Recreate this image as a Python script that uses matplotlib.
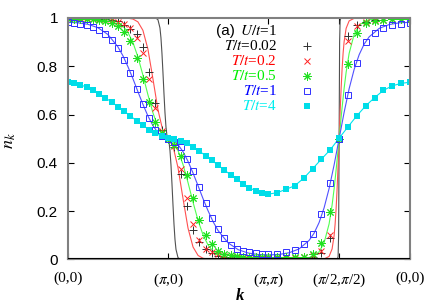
import numpy as np
import matplotlib.pyplot as plt

plt.rcParams['mathtext.fontset'] = 'stix'

# k path (0,0)->(pi,0)->(pi,pi)->(pi/2,pi/2)->(0,0), path length in units of pi
d = np.sqrt(2) / 2
s_ticks = [0, 1, 2, 2 + d, 2 + 2 * d]
tick_labels = ['(0,0)', r'($\pi$,0)', r'($\pi$,$\pi$)', r'($\pi$/2,$\pi$/2)', '(0,0)']

# lattice points (L=32) along the path
sA = np.arange(17) / 16
sB = 1 + np.arange(1, 17) / 16
sC = 2 + np.arange(1, 9) * np.sqrt(2) / 16
sD = 2 + d + np.arange(1, 9) * np.sqrt(2) / 16
s_pts = np.concatenate([sA, sB, sC, sD])

# markers (U/t=1)
n_002 = [0.998, 0.998, 0.998, 0.998, 0.998, 0.997, 0.996, 0.993, 0.988, 0.972, 0.955, 0.934, 0.88, 0.778, 0.647, 0.536, 0.5,
         0.464, 0.353, 0.222, 0.122, 0.07, 0.042, 0.025, 0.015, 0.01, 0.008, 0.006, 0.005, 0.004, 0.004, 0.004, 0.004,
         0.004, 0.004, 0.005, 0.006, 0.01, 0.025, 0.087, 0.5,
         0.924, 0.972, 0.985, 0.99, 0.993, 0.995, 0.996, 0.996]
n_02 = [0.998, 0.998, 0.998, 0.998, 0.997, 0.996, 0.994, 0.99, 0.985, 0.976, 0.96, 0.918, 0.855, 0.746, 0.627, 0.532, 0.5,
        0.468, 0.375, 0.256, 0.148, 0.082, 0.043, 0.03, 0.02, 0.014, 0.01, 0.008, 0.007, 0.006, 0.006, 0.006, 0.006,
        0.006, 0.006, 0.007, 0.01, 0.016, 0.034, 0.1, 0.5,
        0.905, 0.968, 0.985, 0.99, 0.993, 0.995, 0.996, 0.997]
n_05 = [0.997, 0.997, 0.996, 0.996, 0.995, 0.993, 0.988, 0.979, 0.965, 0.944, 0.903, 0.834, 0.746, 0.652, 0.571, 0.525, 0.5,
        0.472, 0.43, 0.35, 0.255, 0.164, 0.099, 0.062, 0.034, 0.022, 0.016, 0.012, 0.01, 0.009, 0.008, 0.008, 0.008,
        0.008, 0.008, 0.009, 0.011, 0.022, 0.069, 0.198, 0.5,
        0.81, 0.938, 0.978, 0.988, 0.992, 0.994, 0.995, 0.996]
n_1 = [0.982, 0.979, 0.976, 0.972, 0.963, 0.949, 0.932, 0.907, 0.874, 0.827, 0.774, 0.705, 0.644, 0.585, 0.536, 0.513, 0.5,
       0.486, 0.464, 0.415, 0.364, 0.299, 0.232, 0.173, 0.124, 0.087, 0.06, 0.043, 0.035, 0.03, 0.026, 0.023, 0.022,
       0.023, 0.03, 0.039, 0.063, 0.105, 0.187, 0.318, 0.5,
       0.682, 0.813, 0.899, 0.938, 0.958, 0.972, 0.976, 0.979]
n_4 = [0.734, 0.729, 0.723, 0.714, 0.702, 0.687, 0.669, 0.652, 0.633, 0.614, 0.594, 0.574, 0.555, 0.537, 0.522, 0.51, 0.502,
       0.498, 0.491, 0.48, 0.465, 0.448, 0.43, 0.41, 0.39, 0.37, 0.35, 0.331, 0.313, 0.297, 0.283, 0.274, 0.27,
       0.276, 0.29, 0.305, 0.336, 0.375, 0.415, 0.454, 0.502,
       0.549, 0.595, 0.636, 0.67, 0.70, 0.719, 0.729, 0.734]

# solid curves (U=0)
x_l002 = [0, 0.85, 0.88, 0.9, 0.92, 0.93, 0.94, 0.95, 0.96, 0.97, 0.98, 0.99, 1.0,
          1.01, 1.02, 1.03, 1.04, 1.05, 1.06, 1.07, 1.08, 1.1, 1.12, 1.15,
          2.69, 2.697, 2.702, 2.7071, 2.712, 2.717, 2.724, 3.4142]
y_l002 = [1.0, 1.0, 0.999, 0.993, 0.959, 0.918, 0.854, 0.774, 0.688, 0.609, 0.549, 0.512, 0.5,
          0.488, 0.451, 0.391, 0.312, 0.226, 0.146, 0.082, 0.041, 0.007, 0.001, 0.0,
          0.0, 0.012, 0.1, 0.5, 0.9, 0.988, 1.0, 1.0]
x_l02 = [0, 0.5, 0.55, 0.6, 0.65, 0.7, 0.75, 0.8, 0.85, 0.9, 0.95, 1.0,
         1.05, 1.1, 1.15, 1.2, 1.25, 1.3, 1.35, 1.4, 1.5,
         2.5, 2.557, 2.607, 2.637, 2.657, 2.667, 2.677, 2.687, 2.697, 2.7071,
         2.717, 2.727, 2.737, 2.747, 2.757, 2.777, 2.807, 2.857, 2.907, 3.4142]
y_l02 = [1.0, 1.0, 0.9998, 0.999, 0.9958, 0.984, 0.949, 0.871, 0.748, 0.62, 0.531, 0.5,
         0.469, 0.38, 0.252, 0.129, 0.051, 0.016, 0.0042, 0.001, 0.0,
         0.0, 0.0014, 0.012, 0.043, 0.098, 0.145, 0.209, 0.292, 0.391, 0.5,
         0.609, 0.708, 0.791, 0.855, 0.902, 0.957, 0.988, 0.9986, 0.9997, 1.0]
x_l05 = [0, 0.2, 0.3, 0.4, 0.5, 0.55, 0.6, 0.65, 0.7, 0.75, 0.8, 0.85, 0.9, 0.95, 1.0,
         1.05, 1.1, 1.15, 1.2, 1.25, 1.3, 1.35, 1.4, 1.45, 1.5, 1.6, 1.7, 1.8, 2.0,
         2.207, 2.307, 2.407, 2.457, 2.507, 2.557, 2.607, 2.637, 2.657, 2.677, 2.692, 2.7071,
         2.722, 2.737, 2.757, 2.777, 2.807, 2.857, 2.907, 2.957, 3.007, 3.107, 3.207, 3.4142]
y_l05 = [0.9997, 0.9993, 0.9983, 0.9947, 0.982, 0.967, 0.9407, 0.899, 0.839, 0.7635, 0.682, 0.607, 0.549, 0.512, 0.5,
         0.488, 0.451, 0.393, 0.318, 0.2365, 0.161, 0.101, 0.0593, 0.033, 0.018, 0.0053, 0.0017, 0.0007, 0.0003,
         0.0008, 0.002, 0.0071, 0.0145, 0.031, 0.068, 0.1465, 0.2246, 0.2917, 0.37, 0.434, 0.5,
         0.566, 0.63, 0.708, 0.775, 0.8535, 0.932, 0.969, 0.9855, 0.9929, 0.998, 0.9992, 0.9997]
x_l1 = [0, 0.1, 0.2, 0.3, 0.4, 0.5, 0.55, 0.6, 0.65, 0.7, 0.75, 0.8, 0.85, 0.9, 0.95, 1.0,
        1.05, 1.1, 1.15, 1.2, 1.25, 1.3, 1.35, 1.4, 1.45, 1.5, 1.6, 1.7, 1.8, 1.9, 2.0,
        2.107, 2.207, 2.307, 2.407, 2.457, 2.507, 2.557, 2.607, 2.657, 2.7071,
        2.757, 2.807, 2.857, 2.907, 2.957, 3.007, 3.107, 3.207, 3.307, 3.4142]
y_l1 = [0.982, 0.98, 0.974, 0.96, 0.932, 0.881, 0.844, 0.799, 0.749, 0.695, 0.6425, 0.594, 0.554, 0.5245, 0.506, 0.5,
        0.494, 0.4755, 0.446, 0.406, 0.3575, 0.305, 0.251, 0.201, 0.156, 0.119, 0.068, 0.04, 0.026, 0.02, 0.018,
        0.0201, 0.027, 0.0429, 0.078, 0.108, 0.152, 0.213, 0.293, 0.391, 0.5,
        0.609, 0.707, 0.787, 0.848, 0.892, 0.922, 0.957, 0.973, 0.98, 0.982]

fig = plt.figure(figsize=(4.36, 3.05), dpi=100)
ax = fig.add_axes([0.1553, 0.1498, 0.7851, 0.7912])

ax.plot(x_l002, y_l002, color='#505050', lw=0.8)
ax.plot(x_l02, y_l02, color='#ff5050', lw=0.8)
ax.plot(x_l05, y_l05, color='#50ff50', lw=0.8)
ax.plot(x_l1, y_l1, color='#5050ff', lw=0.8)
ax.plot(s_pts, n_4, color='#00e5ee', lw=0.8)

ax.plot(s_pts, n_002, ls='none', marker='+', ms=6, mew=0.7, color='#303030')
ax.plot(s_pts, n_02, ls='none', marker='x', ms=5, mew=0.7, color='#ff2020')
ax.plot(s_pts, n_05, ls='none', marker=(8, 2, 0), ms=6, mew=0.7, color='#20e020')
ax.plot(s_pts, n_1, ls='none', marker='s', ms=5, mew=0.7, mfc='none', color='#3030ff')
ax.plot(s_pts, n_4, ls='none', marker='s', ms=4.2, mew=0, color='#00dde8')

ax.axhline(0, color='black', lw=1.5, zorder=5)

ax.set_xlim(0, 2 + 2 * d)
ax.set_ylim(0, 1)
ax.set_xticks(s_ticks)
ax.set_xticklabels(tick_labels, family='Liberation Serif', fontsize=11)
ax.set_yticks([0, 0.2, 0.4, 0.6, 0.8, 1])
ax.set_yticklabels(['0', '0.2', '0.4', '0.6', '0.8', '1'], family='Liberation Sans', fontsize=11)
ax.tick_params(direction='in', top=True, right=True, length=4, width=0.8, color='black')
ax.tick_params(axis='x', pad=9)
ax.tick_params(axis='y', pad=7)
for sp in ax.spines.values():
    sp.set_color('#808080')
    sp.set_linewidth(1.5)

ax.set_ylabel(r'$n_k$', fontsize=13)
ax.yaxis.set_label_coords(-0.145, 0.494)
ax.set_xlabel('k', family='Liberation Serif', style='italic', weight='bold', fontsize=12)
ax.xaxis.set_label_coords(0.503, -0.152)
ax.xaxis.label.set_va('center')

# legend
tx = 0.6115
mx = 0.70
rows = [0.946, 0.885, 0.822, 0.760, 0.699, 0.635]
ax.text(0.489, rows[0], '(a)', family='Liberation Sans', fontsize=11, ha='right', va='center', transform=ax.transAxes)
ax.text(tx, rows[0], r'$U/t$=1', family='Liberation Serif', fontsize=11, ha='right', va='center', transform=ax.transAxes)
labels = [r'$T/t$=0.02', r'$T/t$=0.2', r'$T/t$=0.5', r'$T/t$=1', r'$T/t$=4']
tcolors = ['black', '#ff0000', '#00ee00', '#0000ff', '#00eeee']
for i in range(5):
    ax.text(tx, rows[i + 1], labels[i], family='Liberation Serif', fontsize=11, color=tcolors[i],
            ha='right', va='center', transform=ax.transAxes)
ax.plot(mx, rows[1], marker='+', ms=6, mew=0.7, color='#303030', transform=ax.transAxes)
ax.plot(mx, rows[2], marker='x', ms=5, mew=0.7, color='#ff2020', transform=ax.transAxes)
ax.plot(mx, rows[3], marker=(8, 2, 0), ms=6, mew=0.7, color='#20e020', transform=ax.transAxes)
ax.plot(mx, rows[4], marker='s', ms=5, mew=0.7, mfc='none', color='#3030ff', transform=ax.transAxes)
ax.plot(mx, rows[5], marker='s', ms=4.2, mew=0, color='#00dde8', transform=ax.transAxes)

fig.savefig('out.png', dpi=100)
